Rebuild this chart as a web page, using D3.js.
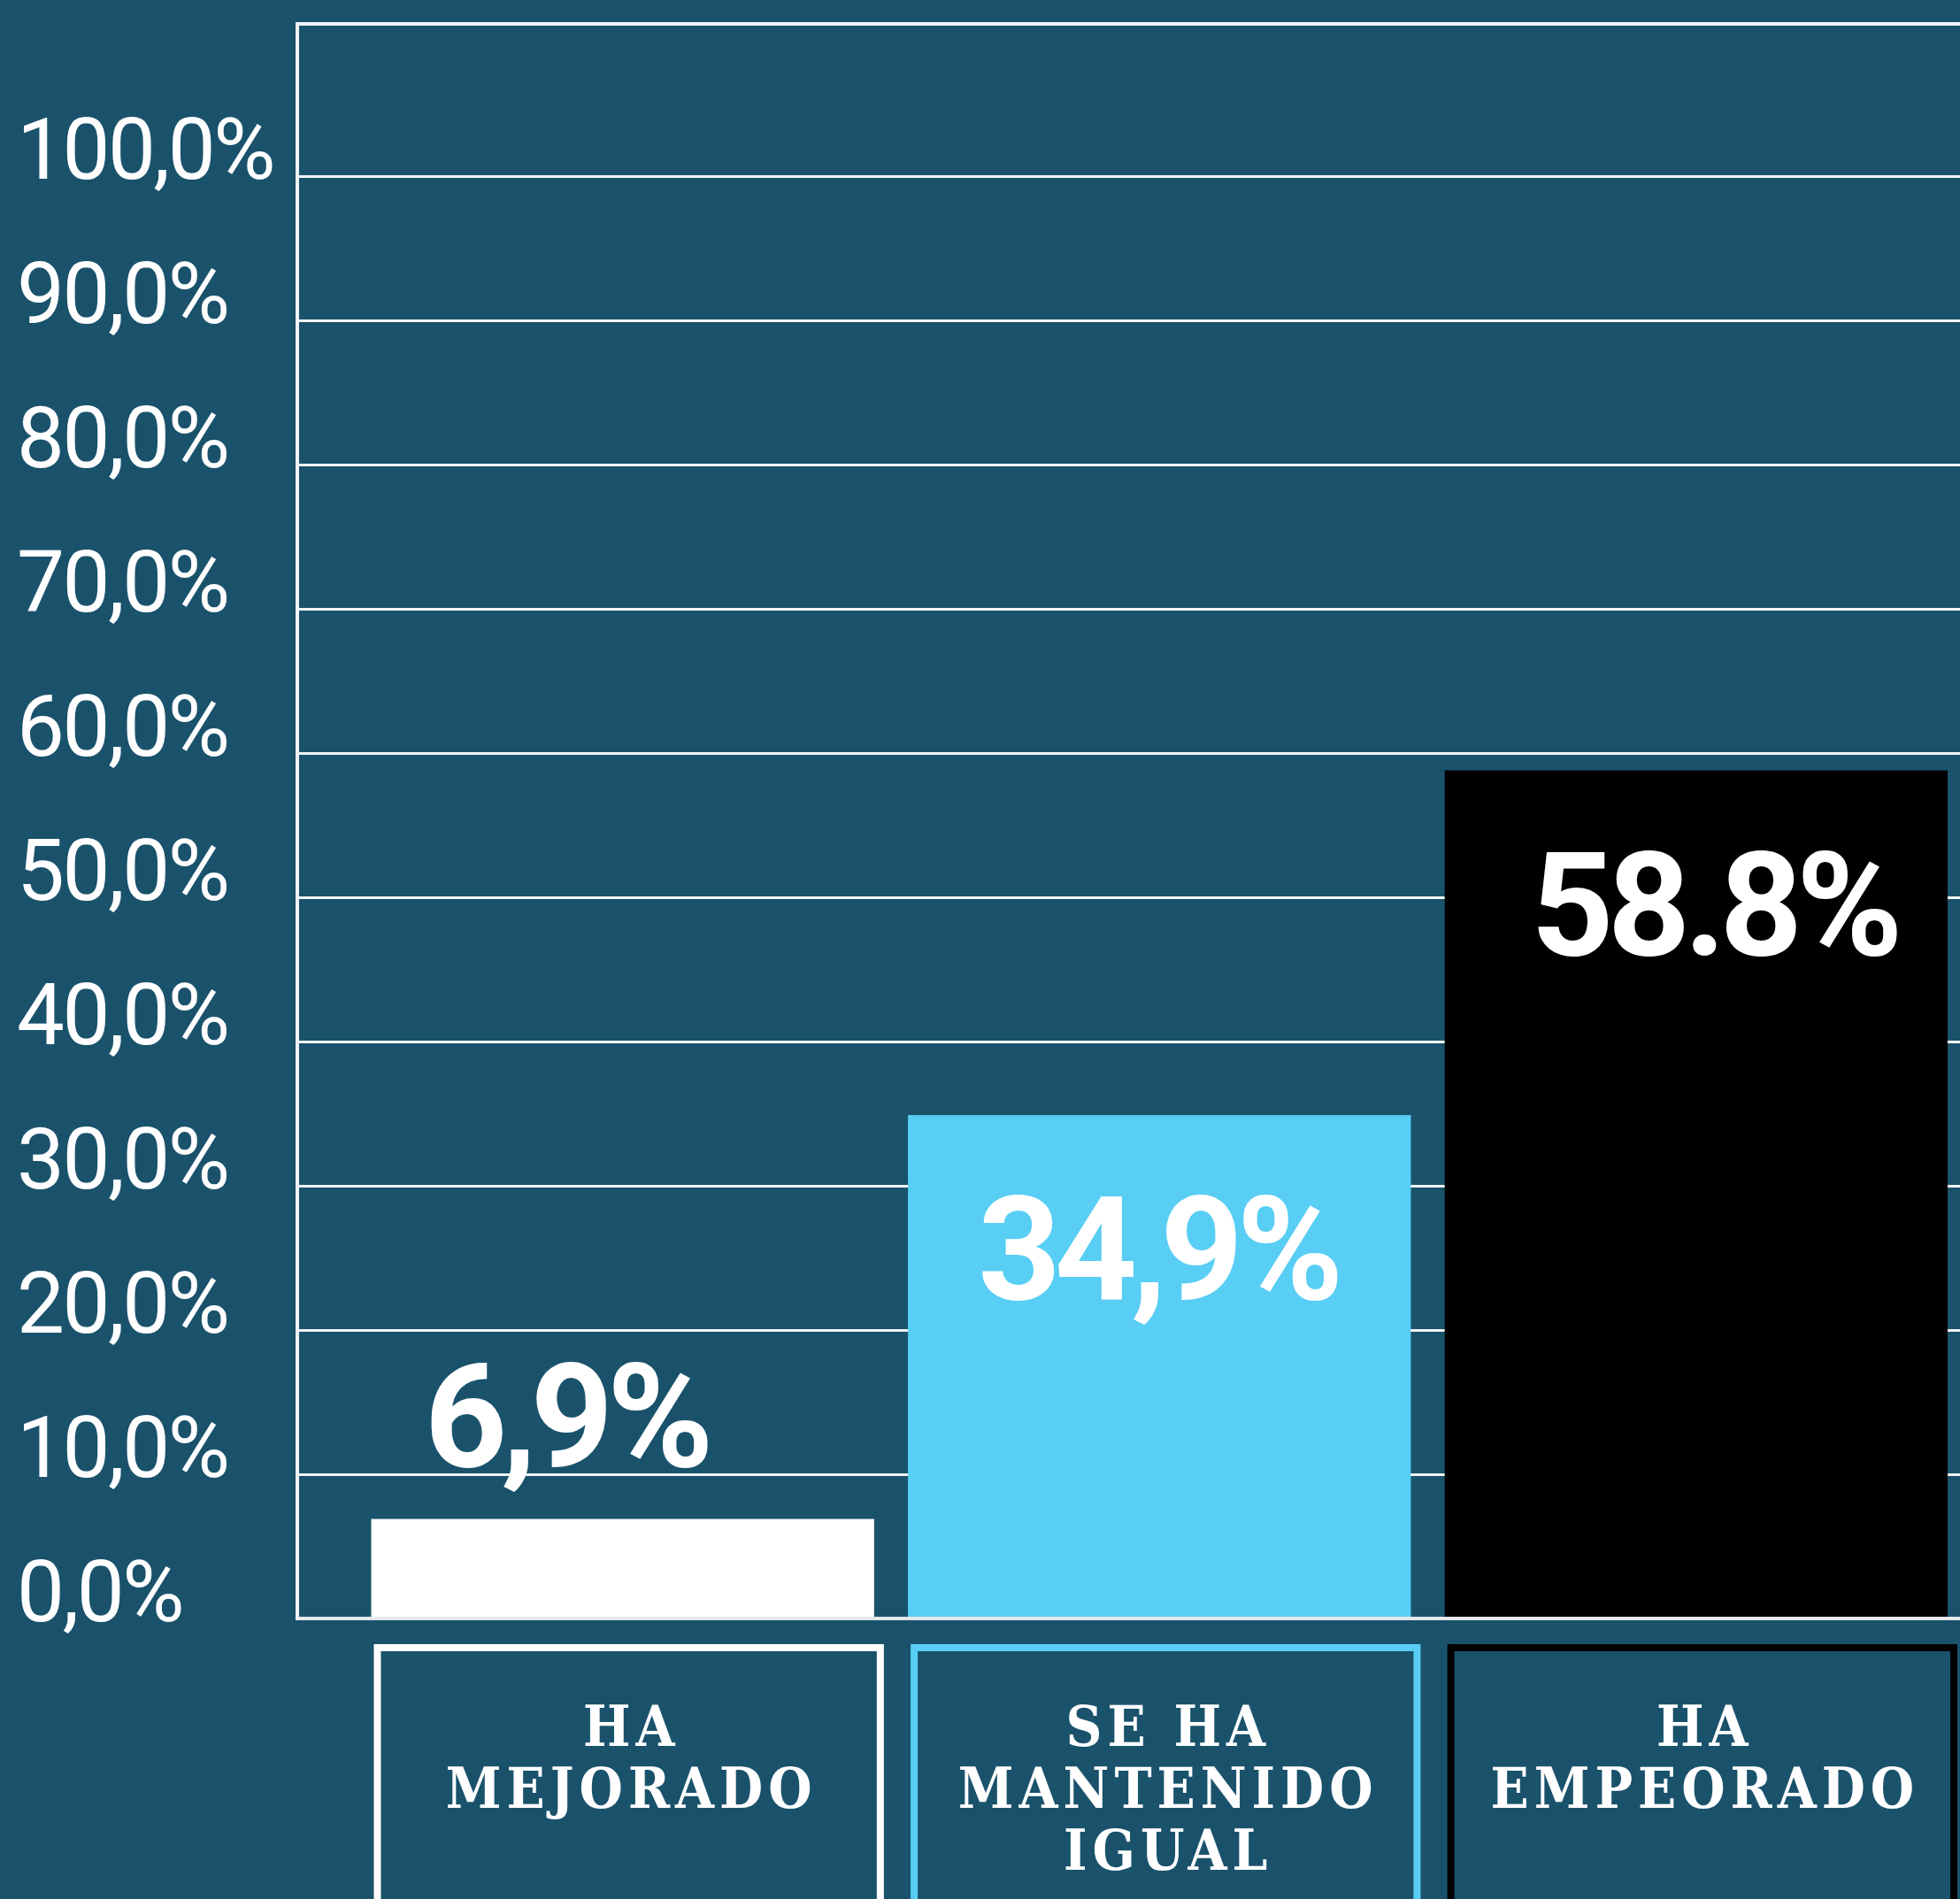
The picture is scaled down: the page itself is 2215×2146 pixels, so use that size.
<!DOCTYPE html>
<html>
<head>
<meta charset="utf-8">
<script src="https://cdn.jsdelivr.net/npm/d3@7"></script>
<style>
  html, body { margin: 0; padding: 0; background: #1a526c; }
  svg { display: block; }
</style>
</head>
<body>
<div id="chart"></div>
<script>
// datos
const categories = ["Ha mejorado", "Se ha mantenido igual", "Ha empeorado"];
const values = [6.9, 34.9, 58.8];
const valueLabels = ["6,9%", "34,9%", "58.8%"];
const labelLines = [["HA", "MEJORADO"], ["SE HA", "MANTENIDO", "IGUAL"], ["HA", "EMPEORADO"]];
const yTicks = [0, 10, 20, 30, 40, 50, 60, 70, 80, 90, 100];

const width = 2215;
const height = 2146;
const bg = "#1a526c";
const barColors = ["#ffffff", "#58cef4", "#000000"];
const boxColors = ["#ffffff", "#58cef4", "#000000"];
// pequeño ajuste horizontal de las etiquetas de valor
const labelNudge = [-64, -2, 20];

const plotLeft = 336, plotTop = 27, plotBottom = 1829;

const svg = d3.select("#chart").append("svg")
  .attr("width", width)
  .attr("height", height)
  .style("background", bg);

const y = d3.scaleLinear().domain([0, 100]).range([plotBottom, 199]);
const x = d3.scaleBand()
  .domain(categories)
  .range([419.5, 2201])
  .paddingInner(0.063)
  .paddingOuter(0);

// rejilla + etiquetas eje y
const yAxis = svg.append("g")
  .attr("transform", `translate(${plotLeft},0)`)
  .call(d3.axisLeft(y)
    .tickValues(yTicks)
    .tickSize(-(width - plotLeft))
    .tickFormat(d => d.toFixed(1).replace(".", ",") + "%"));

yAxis.select(".domain").remove();
yAxis.selectAll(".tick line")
  .attr("stroke", "#f2f4f5")
  .attr("stroke-width", 3);
yAxis.selectAll(".tick text")
  .attr("x", 19 - plotLeft)
  .attr("y", 2)
  .attr("dy", 0)
  .attr("text-anchor", "start")
  .attr("fill", "#ffffff")
  .style("font-family", "Roboto, 'Open Sans', sans-serif")
  .style("font-weight", 400)
  .style("font-size", "96px")
  .style("letter-spacing", "-2.5px");

// marco
svg.append("line")
  .attr("x1", plotLeft).attr("x2", width)
  .attr("y1", plotTop).attr("y2", plotTop)
  .attr("stroke", "#f2f4f5").attr("stroke-width", 4);
svg.append("line")
  .attr("x1", plotLeft).attr("x2", plotLeft)
  .attr("y1", plotTop - 2).attr("y2", plotBottom + 2)
  .attr("stroke", "#f2f4f5").attr("stroke-width", 4);

// barras
svg.selectAll(".bar")
  .data(values)
  .enter()
  .append("rect")
  .attr("class", "bar")
  .attr("x", (d, i) => x(categories[i]))
  .attr("y", d => y(d))
  .attr("width", x.bandwidth())
  .attr("height", d => plotBottom - y(d))
  .attr("fill", (d, i) => barColors[i]);

// eje inferior
svg.append("line")
  .attr("x1", plotLeft).attr("x2", width)
  .attr("y1", plotBottom).attr("y2", plotBottom)
  .attr("stroke", "#e4e9ec").attr("stroke-width", 4);

// etiquetas de valor
svg.selectAll(".value")
  .data(values)
  .enter()
  .append("text")
  .attr("class", "value")
  .attr("x", (d, i) => x(categories[i]) + x.bandwidth() / 2 + labelNudge[i])
  .attr("y", d => d < 15 ? y(d) - 60 : y(d) + 208)
  .attr("text-anchor", "middle")
  .attr("fill", "#ffffff")
  .style("font-family", "Roboto, sans-serif")
  .style("font-weight", 700)
  .style("font-size", "163px")
  .style("letter-spacing", "-7px")
  .text((d, i) => valueLabels[i]);

// cajas de categoría
const boxes = svg.selectAll(".cat")
  .data(categories)
  .enter()
  .append("g")
  .attr("class", "cat");

boxes.append("rect")
  .attr("x", d => x(d) + 7)
  .attr("y", 1862)
  .attr("width", x.bandwidth())
  .attr("height", 400)
  .attr("fill", "none")
  .attr("stroke", (d, i) => boxColors[i])
  .attr("stroke-width", 8);

boxes.each(function (d, i) {
  const cx = x(d) + 7 + x.bandwidth() / 2 + 3;
  const t = d3.select(this).append("text")
    .attr("text-anchor", "middle")
    .attr("fill", "#ffffff")
    .style("font-family", "'DejaVu Serif Condensed', 'DejaVu Serif', serif")
    .style("font-stretch", "condensed")
    .style("font-weight", 700)
    .style("font-size", "63px")
    .style("letter-spacing", "6px");
  labelLines[i].forEach((line, j) => {
    t.append("tspan")
      .attr("x", cx)
      .attr("y", 1973 + j * 70)
      .text(line);
  });
});
</script>
</body>
</html>
